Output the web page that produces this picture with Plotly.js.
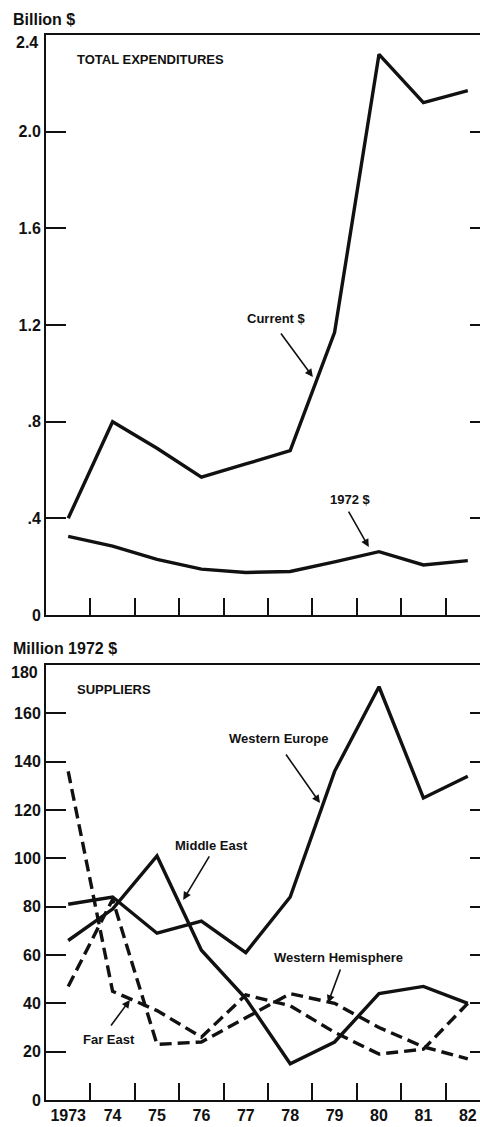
<!DOCTYPE html>
<html>
<head>
<meta charset="utf-8">
<script src="https://cdn.plot.ly/plotly-3.0.1.min.js"></script>
<style>
html,body{margin:0;padding:0;background:#fff;overflow:hidden;}
#chart{width:490px;height:1127px;}
</style>
</head>
<body>
<div id="chart"></div>
<script>
// ---- data ----
const years = [1973, 1974, 1975, 1976, 1977, 1978, 1979, 1980, 1981, 1982];
const yearLabels = ['1973', '74', '75', '76', '77', '78', '79', '80', '81', '82'];
const tickMidpoints = [1973.5, 1974.5, 1975.5, 1976.5, 1977.5, 1978.5, 1979.5, 1980.5, 1981.5];

// Total expenditures, billion $
const currentDollars = [0.40, 0.80, 0.69, 0.57, 0.625, 0.68, 1.17, 2.32, 2.12, 2.17];
const constant1972Dollars = [0.325, 0.285, 0.23, 0.19, 0.176, 0.18, 0.22, 0.262, 0.207, 0.225];
const topTickVals = [0, 0.4, 0.8, 1.2, 1.6, 2.0, 2.4];
const topTickText = ['0', '.4', '.8', '1.2', '1.6', '2.0', ''];
const topMaxLabel = '2.4';

// Suppliers, million 1972 $
const westernEurope = [81, 84, 69, 74, 61, 84, 136, 171, 125, 134];
const middleEast = [66, 79, 101, 62, 42, 15, 24, 44, 47, 40];
const farEast = [136, 45, 37, 26, 43.5, 39, 28, 19, 21, 40];
const westernHemisphere = [47, 83, 23, 24, 34, 44, 40, 30, 22, 17];
const bottomTickVals = [0, 20, 40, 60, 80, 100, 120, 140, 160, 180];
const bottomTickText = ['0', '20', '40', '60', '80', '100', '120', '140', '160', ''];
const bottomMaxLabel = '180';

// ---- styling ----
const INK = '#111';
const FONT = 'Liberation Sans, Arial, Helvetica, sans-serif';
const NARROW = 'Liberation Sans Narrow, Arial Narrow, Liberation Sans, sans-serif';
const TICKSIZE = 16;

function line(x, y, xa, ya, dash) {
  return {
    x: x, y: y, xaxis: xa, yaxis: ya, type: 'scatter', mode: 'lines',
    line: {color: INK, width: 3.4, dash: dash || 'solid'},
    hoverinfo: 'skip', showlegend: false
  };
}

const traces = [
  line(years, currentDollars, 'x', 'y'),
  line(years, constant1972Dollars, 'x', 'y'),
  line(years, westernEurope, 'x2', 'y2'),
  line(years, middleEast, 'x2', 'y2'),
  line(years, farEast, 'x2', 'y2', '12px,6px'),
  line(years, westernHemisphere, 'x2', 'y2', '12px,6px')
];

function xAxis(anchor, labels) {
  return {
    anchor: anchor, range: [1972.5, 1982.5], fixedrange: true,
    showgrid: false, zeroline: false,
    showline: true, linecolor: INK, linewidth: 2, mirror: true,
    tickmode: 'array', tickvals: years, ticktext: yearLabels,
    showticklabels: labels, ticks: '',
    tickfont: {family: FONT, size: TICKSIZE, color: INK, weight: 'bold'},
    minor: {tickmode: 'array', tickvals: tickMidpoints, ticks: 'inside', ticklen: 17, tickwidth: 2, tickcolor: INK, showgrid: false}
  };
}
function yAxis(anchor, domain, range, vals, text) {
  return {
    anchor: anchor, domain: domain, range: range, fixedrange: true,
    showgrid: false, zeroline: false,
    showline: true, linecolor: INK, linewidth: 2, mirror: 'ticks',
    tickmode: 'array', tickvals: vals, ticktext: text,
    ticks: 'inside', ticklen: 20, tickwidth: 2, tickcolor: INK,
    tickfont: {family: FONT, size: TICKSIZE, color: INK, weight: 'bold'}
  };
}

function label(xref, yref, x, y, text, anchor, size) {
  return {xref: xref, yref: yref, x: x, y: y, text: text, showarrow: false,
    xanchor: anchor || 'center', yanchor: 'middle',
    font: {family: NARROW, size: size || 13, color: INK, weight: 'bold'}};
}
function arrow(xref, yref, x, y, ax, ay) {
  return {xref: xref, yref: yref, x: x, y: y, ax: ax, ay: ay, text: '',
    showarrow: true, arrowhead: 2, arrowsize: 1, arrowwidth: 1.6, arrowcolor: INK};
}
// paper coordinates from pixel positions (plot area: x 46..490, y 35..1100)
function px(xp) { return (xp - 46) / 444; }
function py(yp) { return (1100 - yp) / 1065; }
function paperText(xp, yp, text, anchor, size) {
  return {xref: 'paper', yref: 'paper', x: px(xp), y: py(yp), text: text, showarrow: false,
    xanchor: anchor, yanchor: 'middle',
    font: {family: FONT, size: size, color: INK, weight: 'bold'}};
}

const annotations = [
  paperText(11, 19, 'Billion $', 'left', 16),
  paperText(11, 648, 'Million 1972 $', 'left', 16),
  paperText(40, 42, topMaxLabel, 'right', TICKSIZE),
  paperText(40, 672, bottomMaxLabel, 'right', TICKSIZE),
  label('x', 'y', 1973.15, 2.30, 'TOTAL EXPENDITURES', 'left'),
  label('x', 'y', 1977.70, 1.225, 'Current $'),
  arrow('x', 'y', 1978.51, 0.985, -33, -45),
  label('x', 'y', 1979.35, 0.476, '1972 $'),
  arrow('x', 'y', 1979.77, 0.281, -21, -37),
  label('x2', 'y2', 1973.15, 170, 'SUPPLIERS', 'left'),
  label('x2', 'y2', 1977.73, 149.4, 'Western Europe'),
  arrow('x2', 'y2', 1978.67, 122.9, -35, -50),
  label('x2', 'y2', 1976.22, 105.5, 'Middle East'),
  arrow('x2', 'y2', 1975.59, 82.8, 27, -45),
  label('x2', 'y2', 1979.08, 58.8, 'Western Hemisphere'),
  arrow('x2', 'y2', 1978.85, 40.1, 13, -35),
  label('x2', 'y2', 1973.92, 25.2, 'Far East'),
  arrow('x2', 'y2', 1974.39, 41.4, -20, 27)
];

const layout = {
  width: 490, height: 1127,
  margin: {l: 46, r: 0, t: 35, b: 27, pad: 0},
  paper_bgcolor: '#fff', plot_bgcolor: '#fff',
  showlegend: false,
  xaxis: xAxis('y', false),
  yaxis: yAxis('x', [485 / 1065, 1], [0, 2.4], topTickVals, topTickText),
  xaxis2: xAxis('y2', true),
  yaxis2: yAxis('x2', [0, 435 / 1065], [0, 180], bottomTickVals, bottomTickText),
  annotations: annotations
};

Plotly.newPlot('chart', traces, layout, {staticPlot: true, displayModeBar: false});
</script>
</body>
</html>
